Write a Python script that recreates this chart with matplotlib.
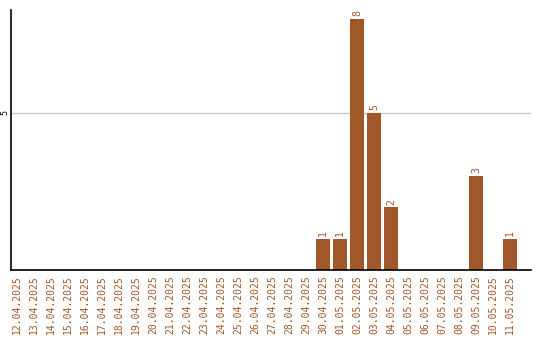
import matplotlib
matplotlib.use("Agg")
import matplotlib.pyplot as plt

dates = ["12.04.2025", "13.04.2025", "14.04.2025", "15.04.2025", "16.04.2025",
         "17.04.2025", "18.04.2025", "19.04.2025", "20.04.2025", "21.04.2025",
         "22.04.2025", "23.04.2025", "24.04.2025", "25.04.2025", "26.04.2025",
         "27.04.2025", "28.04.2025", "29.04.2025", "30.04.2025", "01.05.2025",
         "02.05.2025", "03.05.2025", "04.05.2025", "05.05.2025", "06.05.2025",
         "07.05.2025", "08.05.2025", "09.05.2025", "10.05.2025", "11.05.2025"]
values = [0, 0, 0, 0, 0, 0, 0, 0, 0, 0, 0, 0, 0, 0, 0, 0, 0, 0,
          1, 1, 8, 5, 2, 0, 0, 0, 0, 3, 0, 1]

color = "#A0572A"
fig = plt.figure(figsize=(5.4, 3.4), dpi=100)
ax = fig.add_axes([11/540, 70/340, 520/540, 260/340])
x = list(range(len(dates)))
ax.bar(x, values, width=0.82, color=color, zorder=2)
for xi, v in zip(x, values):
    if v > 0:
        ax.text(xi, v + 0.08, str(v), rotation=90, ha="center", va="bottom",
                fontsize=7, color=color, family="DejaVu Sans Mono")
ax.set_xlim(-0.35, 30.24)
ax.set_ylim(0, 8.28)
ax.set_yticks([5])
ax.set_yticklabels(["5"], rotation=90, va="center", fontsize=6, family="DejaVu Sans Mono")
ax.yaxis.grid(True, color="#c8c8c8", linewidth=1, zorder=0)
ax.tick_params(axis="y", length=0, pad=1.5)
ax.set_xticks(x)
ax.set_xticklabels(dates, rotation=90, fontsize=7, color=color, family="DejaVu Sans Mono")
ax.tick_params(axis="x", length=0, pad=4)
for s in ["top", "right"]:
    ax.spines[s].set_visible(False)
ax.spines["left"].set_linewidth(1.2)
ax.spines["bottom"].set_linewidth(1.2)
fig.savefig("out.png", dpi=100)
